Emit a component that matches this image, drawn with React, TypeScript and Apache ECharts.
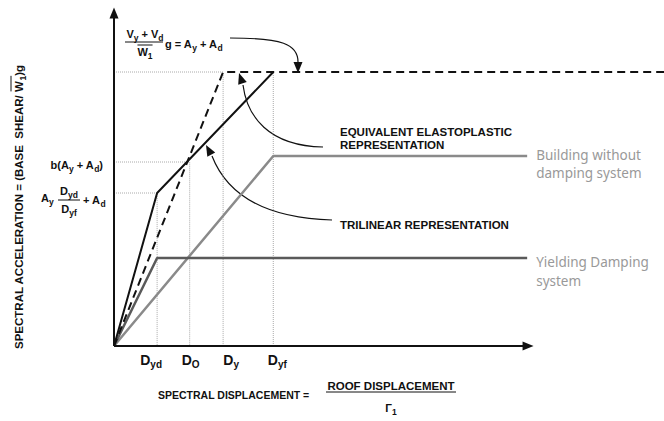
import React, { useEffect, useRef } from "react";
import * as echarts from "echarts";

// Spectral displacement markers on the horizontal axis
const dispMain = ["D", "D", "D", "D"];
const dispSub = ["yd", "O", "y", "yf"];
const dispValues = [0.98, 1.72, 2.48, 3.62];
const dispLabelShift = [-6, 1, 8, 4];

// Spectral acceleration levels
const accTop = 2.74; // Ay + Ad
const accBuilding = 1.9; // Ay (building alone)
const accB = 1.84; // b(Ay + Ad)
const accKnee = 1.53; // Ay·Dyd/Dyf + Ad
const accDamper = 0.88; // Ad (yielding damping system)

// Capacity curves
const trilinear = [[0, 0], [0.98, 1.53], [3.62, 2.74]];
const elastoplastic = [[0, 0], [2.48, 2.74], [12.5, 2.74]];
const building = [[0, 0], [3.62, 1.9], [9.39, 1.9]];
const damper = [[0, 0], [0.98, 0.88], [9.39, 0.88]];

// Dotted construction lines
const guides = [
  [[0, accTop], [dispValues[2], accTop], [dispValues[2], 0]],
  [[dispValues[3], 0], [dispValues[3], accTop]],
  [[0, accB], [dispValues[1], accB], [dispValues[1], 0]],
  [[0, accKnee], [dispValues[0], accKnee], [dispValues[0], 0]],
];

// Axis extents (arrow positions)
const xMax = 12.5;
const yMax = 3.38;
const xArrow = 9.41;
const yArrow = 3.33;

const BLACK = "#111";
const bold = (s: number) => `bold ${s}px "Liberation Sans", Arial, sans-serif`;
const grayFont = '13.5px "Noto Sans", sans-serif';

let measureCtx: CanvasRenderingContext2D | null = null;
function textWidth(t: string, font: string) {
  if (!measureCtx) measureCtx = document.createElement("canvas").getContext("2d");
  measureCtx!.font = font;
  return measureCtx!.measureText(t).width;
}

type Piece = { t: string; size: number; dy?: number };

// Lays out a run of text pieces (with sub-scripts) horizontally.
function run(
  x: number,
  y: number,
  pieces: Piece[],
  align: "left" | "center" | "right" = "left",
  fill = BLACK
) {
  const widths = pieces.map((p) => textWidth(p.t, bold(p.size)));
  const total = widths.reduce((a, b) => a + b, 0);
  let cx = align === "left" ? x : align === "center" ? x - total / 2 : x - total;
  const start = cx;
  const els: any[] = [];
  pieces.forEach((p, i) => {
    els.push({
      type: "text",
      x: cx,
      y: y + (p.dy || 0),
      silent: true,
      style: {
        text: p.t,
        font: bold(p.size),
        fill,
        textAlign: "left",
        textVerticalAlign: "middle",
      },
    });
    cx += widths[i];
  });
  return { els, start, end: start + total, widths };
}

function hline(x1: number, x2: number, y: number, w = 1) {
  return {
    type: "line",
    silent: true,
    shape: { x1, y1: y, x2, y2: y },
    style: { stroke: BLACK, lineWidth: w },
  };
}

function head(tip: number[], from: number[], len = 11, half = 4.5) {
  const dx = tip[0] - from[0];
  const dy = tip[1] - from[1];
  const d = Math.hypot(dx, dy) || 1;
  const ux = dx / d;
  const uy = dy / d;
  const bx = tip[0] - ux * len;
  const by = tip[1] - uy * len;
  return {
    type: "polygon",
    silent: true,
    shape: {
      points: [
        tip,
        [bx - uy * half, by + ux * half],
        [bx + uy * half, by - ux * half],
      ],
    },
    style: { fill: BLACK },
  };
}

function curve(p: number[][]) {
  return {
    type: "bezierCurve",
    silent: true,
    shape: {
      x1: p[0][0],
      y1: p[0][1],
      cpx1: p[1][0],
      cpy1: p[1][1],
      cpx2: p[2][0],
      cpy2: p[2][1],
      x2: p[3][0],
      y2: p[3][1],
    },
    style: { stroke: BLACK, lineWidth: 1.2, fill: null },
  };
}

function plainText(x: number, y: number, text: string, font: string, fill: string) {
  return {
    type: "text",
    x,
    y,
    silent: true,
    style: { text, font, fill, textAlign: "left", textVerticalAlign: "middle" },
  };
}

function lineSeries(data: number[][], style: any, z = 2) {
  return {
    type: "line",
    data,
    symbol: "none",
    silent: true,
    clip: false,
    z,
    lineStyle: style,
  };
}

function buildGraphic(px: (x: number, y: number) => number[]) {
  const g: any[] = [];

  // Displacement tick labels
  dispValues.forEach((v, i) => {
    const cx = px(v, 0)[0] + dispLabelShift[i];
    g.push(
      ...run(cx, 360, [
        { t: dispMain[i], size: 14 },
        { t: dispSub[i], size: 10, dy: 4.5 },
      ], "center").els
    );
  });

  // Acceleration labels
  const yB = px(0, accB)[1];
  g.push(
    ...run(103, yB + 3, [
      { t: "b(A", size: 11 },
      { t: "y", size: 8.5, dy: 3.5 },
      { t: " + A", size: 11 },
      { t: "d", size: 8.5, dy: 3.5 },
      { t: ")", size: 11 },
    ], "right").els
  );
  const yK = px(0, accKnee)[1];
  g.push(
    ...run(41, yK + 5, [
      { t: "A", size: 11 },
      { t: "y", size: 8.5, dy: 3.5 },
    ]).els
  );
  const num = run(69, yK - 2, [
    { t: "D", size: 11 },
    { t: "yd", size: 8.5, dy: 3.5 },
  ], "center");
  const den = run(69, yK + 16, [
    { t: "D", size: 11 },
    { t: "yf", size: 8.5, dy: 3.5 },
  ], "center");
  g.push(...num.els, ...den.els, hline(58, 80, yK + 7));
  g.push(
    ...run(83, yK + 7, [
      { t: "+ A", size: 11 },
      { t: "d", size: 8.5, dy: 3.5 },
    ]).els
  );

  // Top formula: (Vy + Vd)/W1 · g = Ay + Ad
  const fNum = run(145, 34, [
    { t: "V", size: 11 },
    { t: "y", size: 8.5, dy: 3.5 },
    { t: " + V", size: 11 },
    { t: "d", size: 8.5, dy: 3.5 },
  ], "center");
  const fDen = run(145, 52, [
    { t: "W", size: 11 },
    { t: "1", size: 8.5, dy: 3.5 },
  ], "center");
  g.push(...fNum.els, ...fDen.els, hline(125, 163, 42), hline(fDen.start, fDen.end, 45));
  g.push(
    ...run(165, 44, [
      { t: "g = A", size: 11 },
      { t: "y", size: 8.5, dy: 3.5 },
      { t: " + A", size: 11 },
      { t: "d", size: 8.5, dy: 3.5 },
    ]).els
  );

  // Horizontal axis title
  g.push(...run(158, 395, [{ t: "SPECTRAL DISPLACEMENT =", size: 10.5 }]).els);
  g.push(...run(391, 386, [{ t: "ROOF DISPLACEMENT", size: 11.5 }], "center").els);
  g.push(hline(326, 456, 392));
  g.push(
    ...run(391, 408, [
      { t: "Γ", size: 11 },
      { t: "1", size: 8.5, dy: 3.5 },
    ], "center").els
  );

  // Vertical axis title, read bottom to top
  const yt = run(0, 0, [
    { t: "SPECTRAL ACCELERATION = (BASE  SHEAR/ W", size: 11.5 },
    { t: "1", size: 8.5, dy: 3.5 },
    { t: ")g", size: 11.5 },
  ], "center");
  const wStart = yt.end - yt.widths[2] - yt.widths[1] - textWidth("W", bold(11.5));
  const wEnd = yt.end - yt.widths[2];
  g.push({
    type: "group",
    x: 19,
    y: 207,
    rotation: Math.PI / 2,
    children: [...yt.els, hline(wStart, wEnd, -8)],
  });

  // Curve annotations
  g.push(plainText(340, 132, "EQUIVALENT ELASTOPLASTIC", bold(11.5), BLACK));
  g.push(plainText(340, 145, "REPRESENTATION", bold(11.5), BLACK));
  g.push(plainText(340, 225, "TRILINEAR REPRESENTATION", bold(11.5), BLACK));

  const yBld = px(0, accBuilding)[1];
  const yDmp = px(0, accDamper)[1];
  const xTxt = px(9.39, 0)[0] + 9;
  g.push(plainText(xTxt, yBld - 1, "Building without", grayFont, "#999"));
  g.push(plainText(xTxt, yBld + 17, "damping system", grayFont, "#999"));
  g.push(plainText(xTxt, yDmp + 4, "Yielding Damping", grayFont, "#999"));
  g.push(plainText(xTxt, yDmp + 23, "system", grayFont, "#999"));

  // Pointer arrows
  const yTop = px(0, accTop)[1];
  g.push(curve([[230, 38], [282, 38], [298, 44], [298, yTop - 10]]));
  g.push(head([298, yTop + 1], [298, yTop - 10]));
  g.push(curve([[323, 147], [268, 146], [247, 116], [243, 85]]));
  g.push(head([239, yTop + 1], [243, 85]));
  g.push(curve([[332, 220], [262, 218], [226, 192], [212, 156]]));
  g.push(head([206, 145], [212, 156]));

  return g;
}

export default function App() {
  const ref = useRef<HTMLDivElement>(null);

  useEffect(() => {
    const chart = echarts.init(ref.current!, null, { renderer: "svg" });
    const guideStyle = { color: "#aaa", width: 1, type: "dotted" };

    chart.setOption({
      animation: false,
      backgroundColor: "#fff",
      grid: { left: 114, top: 8, right: 0, bottom: 75 },
      xAxis: { type: "value", min: 0, max: xMax, show: false },
      yAxis: { type: "value", min: 0, max: yMax, show: false },
      series: [
        ...guides.map((d) => lineSeries(d, guideStyle, 1)),
        lineSeries(building, { color: "#8a8a8a", width: 2.5 }),
        lineSeries(damper, { color: "#5a5a5a", width: 2.5 }),
        lineSeries(elastoplastic, { color: BLACK, width: 2, type: [8, 5] }, 3),
        lineSeries(trilinear, { color: BLACK, width: 2 }, 3),
        {
          type: "line",
          data: [[0, 0]],
          symbol: "none",
          silent: true,
          z: 4,
          markLine: {
            silent: true,
            animation: false,
            symbol: ["none", "triangle"],
            symbolSize: [9, 11],
            label: { show: false },
            lineStyle: { color: BLACK, width: 2, type: "solid" },
            emphasis: { disabled: true },
            data: [
              [{ coord: [0, 0] }, { coord: [xArrow, 0] }],
              [{ coord: [0, 0] }, { coord: [0, yArrow] }],
            ],
          },
        },
      ],
    });

    const px = (x: number, y: number) =>
      chart.convertToPixel({ gridIndex: 0 }, [x, y]) as number[];
    chart.setOption({ graphic: buildGraphic(px) });

    return () => chart.dispose();
  }, []);

  return (
    <div
      ref={ref}
      style={{ position: "absolute", left: 0, top: 0, width: 664, height: 421, background: "#fff" }}
    />
  );
}
